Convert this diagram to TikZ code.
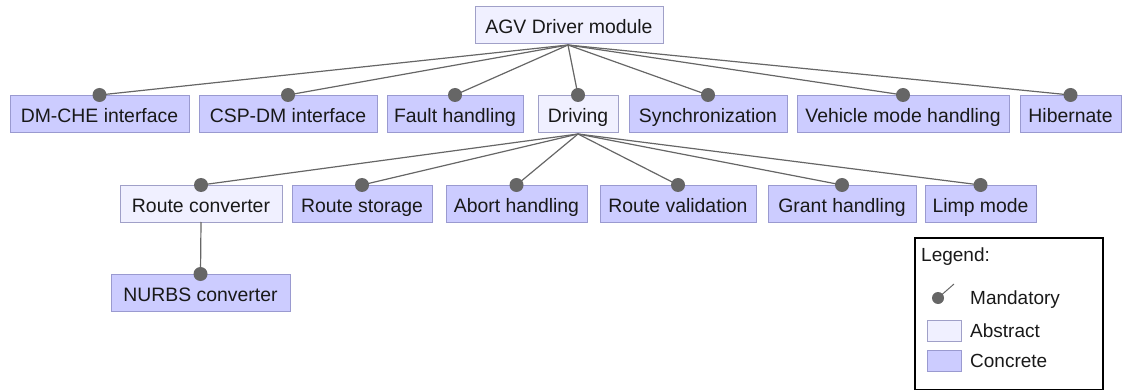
\documentclass[tikz,border=0pt]{standalone}
\usepackage{fontspec}
\setmainfont{Liberation Sans}
\definecolor{concfill}{HTML}{CCCCFF}
\definecolor{concdraw}{HTML}{9A9AD0}
\definecolor{absfill}{HTML}{F0F0FF}
\definecolor{absdraw}{HTML}{A0A0C8}
\definecolor{linkgray}{HTML}{666666}
\begin{document}
\begin{tikzpicture}[x=1pt,y=-1pt,
  feat/.style={rectangle, inner sep=0pt, line width=1pt, minimum height=37pt,
    text height=19pt, text depth=2pt,
    font=\fontsize{19.4}{23}\selectfont, text=black!90},
  concrete/.style={feat, fill=concfill, draw=concdraw},
  abstract/.style={feat, fill=absfill, draw=absdraw},
  link/.style={draw=linkgray, line width=1.2pt},
  mand/.style={fill=linkgray, draw=none},
  legendtext/.style={font=\fontsize{19}{22}\selectfont, text=black!90, anchor=west, inner sep=0pt}]
\useasboundingbox (0,0) rectangle (1126,390);

% feature boxes
\node[abstract, minimum width=188pt, minimum height=37pt] (root) at (569,25) {AGV Driver module};

\node[concrete, minimum width=179pt] (dmche) at (99.5,114) {DM-CHE interface};
\node[concrete, minimum width=178pt] (cspdm) at (288,114) {CSP-DM interface};
\node[concrete, minimum width=136pt] (fault) at (455,114) {Fault handling};
\node[abstract, minimum width=80pt] (driving) at (578,114) {Driving};
\node[concrete, minimum width=158pt] (sync) at (708,114) {Synchronization};
\node[concrete, minimum width=212pt] (vehicle) at (903,114) {Vehicle mode handling};
\node[concrete, minimum width=101pt] (hibernate) at (1070.5,114) {Hibernate};

\node[abstract, minimum width=162pt] (routeconv) at (201,204) {Route converter};
\node[concrete, minimum width=140pt] (routestore) at (362,204) {Route storage};
\node[concrete, minimum width=141pt] (abort) at (516.5,204) {Abort handling};
\node[concrete, minimum width=156pt] (routeval) at (678,204) {Route validation};
\node[concrete, minimum width=148pt] (grant) at (842,204) {Grant handling};
\node[concrete, minimum width=111pt] (limp) at (980.5,204) {Limp mode};

\node[concrete, minimum width=179pt] (nurbs) at (200.5,293) {NURBS converter};

% connectors from parent to child
\coordinate (rootout) at (568,45);
\coordinate (drivout) at (578,134);
\coordinate (convout) at (201,222);
\foreach \c in {dmche,cspdm,fault,driving,sync,vehicle,hibernate}
  \draw[link] (rootout) -- (\c.north);
\foreach \c in {routeconv,routestore,abort,routeval,grant,limp}
  \draw[link] (drivout) -- (\c.north);
\draw[link] (convout) -- (nurbs.north);

% mandatory markers
\foreach \c in {dmche,cspdm,fault,driving,sync,vehicle,hibernate,
                routeconv,routestore,abort,routeval,grant,limp,nurbs}
  \fill[mand] (\c.north) circle (7pt);

% legend
\node[draw=black, line width=1.2pt, minimum width=188pt, minimum height=152pt,
      inner sep=0pt] (legend) at (1009,314) {};
\node[legendtext] (legtitle) at (921,257) {Legend:};
\coordinate (manddot) at (938,298);
\coordinate (mandtip) at (954,284);
\draw[link, line width=1pt] (manddot) -- (mandtip);
\fill[mand] (manddot) circle (6pt);
\node[legendtext] (mandtext) at (970,300) {Mandatory};
\node[abstract, minimum width=34pt, minimum height=18pt] (absswatch) at (944,331) {};
\node[legendtext] (abstext) at (970,331) {Abstract};
\node[concrete, minimum width=34pt, minimum height=18pt] (conswatch) at (944,361) {};
\node[legendtext] (constext) at (970,361) {Concrete};
\end{tikzpicture}
\end{document}
